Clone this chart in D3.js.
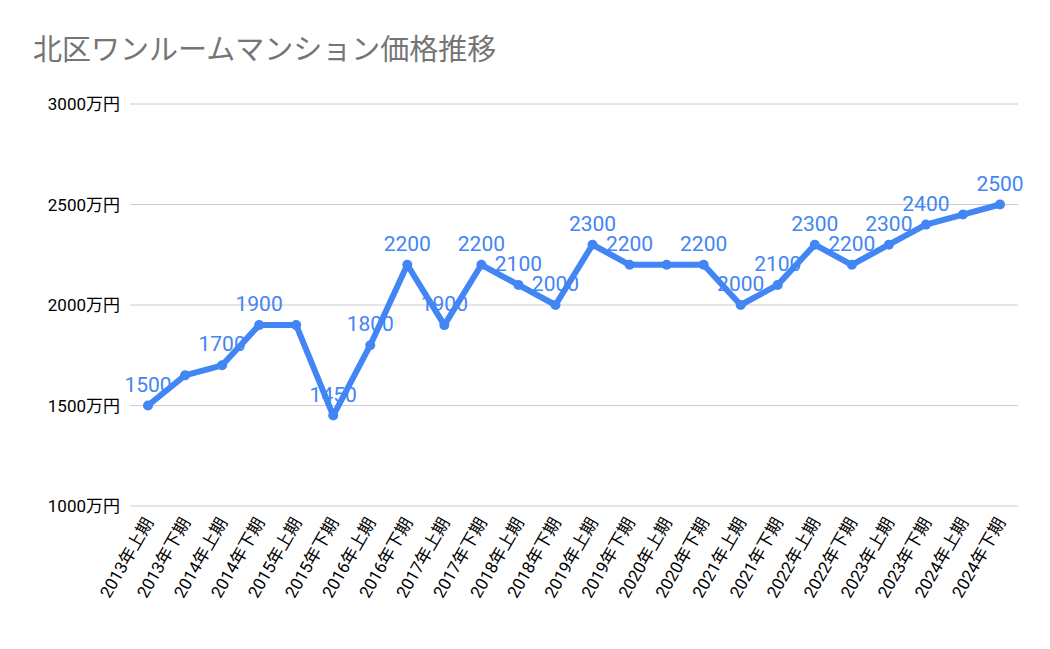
<!DOCTYPE html>
<html><head><meta charset="utf-8">
<script src="https://cdn.jsdelivr.net/npm/d3@7"></script>
<style>body{margin:0;background:#fff}</style>
</head><body><div id="chart"></div>
<script>
// データ
var categories = [];
for (var yr = 2013; yr <= 2024; yr++) { categories.push(yr + "年上期"); categories.push(yr + "年下期"); }
var prices = [1500,1650,1700,1900,1900,1450,1800,2200,1900,2200,2100,2000,2300,2200,2200,2200,2000,2100,2300,2200,2300,2400,2450,2500];
var shownLabels = [1500,null,1700,1900,null,1450,1800,2200,1900,2200,2100,2000,2300,2200,null,2200,2000,2100,2300,2200,2300,2400,null,2500];
var yTicks = [1000,1500,2000,2500,3000];

var width = 1050, height = 649;
var svg = d3.select("#chart").append("svg").attr("width", width).attr("height", height)
	.style("font-family", "Roboto, 'Noto Sans CJK JP', sans-serif");

svg.append("text").attr("x", 33).attr("y", 60).attr("font-size", 29).attr("fill", "#757575")
	.style("font-family", "'Noto Sans CJK JP', sans-serif").text("北区ワンルームマンション価格推移");

var x = d3.scalePoint().domain(categories).range([148, 1000]);
var y = d3.scaleLinear().domain([1000, 3000]).range([506, 104]);

// 目盛線
svg.append("g").selectAll("line").data(yTicks).join("line")
	.attr("x1", 130).attr("x2", 1018).attr("y1", d => y(d)).attr("y2", d => y(d))
	.attr("stroke", "#ccc").attr("stroke-width", 1);

svg.append("g").selectAll("text").data(yTicks).join("text")
	.attr("x", 120).attr("y", d => y(d) + 6).attr("text-anchor", "end").attr("font-size", 17)
	.attr("fill", "#000").text(d => d + "万円");

svg.append("g").selectAll("text").data(categories).join("text")
	.attr("transform", d => "translate(" + (x(d) + 6) + ",522) rotate(-60)")
	.attr("text-anchor", "end").attr("font-size", 17).attr("fill", "#000").text(d => d);

var line = d3.line().x((d, i) => x(categories[i])).y(d => y(d));
svg.append("path").datum(prices).attr("d", line).attr("fill", "none")
	.attr("stroke", "#4285f4").attr("stroke-width", 6).attr("stroke-linejoin", "round");

svg.append("g").selectAll("circle").data(prices).join("circle")
	.attr("cx", (d, i) => x(categories[i])).attr("cy", d => y(d)).attr("r", 5).attr("fill", "#4285f4");

var labelData = shownLabels.map((v, i) => ({v: v, i: i})).filter(d => d.v !== null);
svg.append("g").selectAll("text").data(labelData).join("text")
	.attr("x", d => x(categories[d.i])).attr("y", d => y(prices[d.i]) - 14)
	.attr("text-anchor", "middle").attr("font-size", 21).attr("fill", "#4285f4").text(d => d.v);
</script></body></html>
